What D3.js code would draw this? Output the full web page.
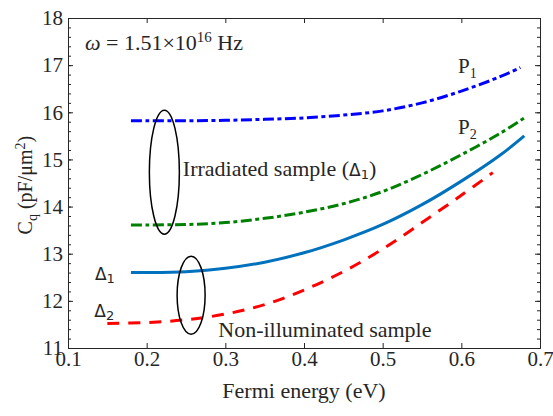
<!DOCTYPE html>
<html>
<head>
<meta charset="utf-8">
<script src="https://cdn.jsdelivr.net/npm/d3@7"></script>
</head>
<body style="margin:0">
<div id="chart"></div>
<script>
// Chart size
const svgWidth = 553;
const svgHeight = 416;
const margin = { top: 18, right: 13, bottom: 68, left: 68 };
const width = svgWidth - margin.left - margin.right;
const height = svgHeight - margin.top - margin.bottom;

const serifFont = "Liberation Serif";
const sansFont = "DejaVu Sans";

// Data (Fermi energy in eV, Cq in pF/um^2)
const xP1 = [0.18, 0.2, 0.25, 0.3, 0.35, 0.4, 0.45, 0.5, 0.55, 0.6, 0.65, 0.675];
const yP1 = [15.82, 15.82, 15.82, 15.83, 15.85, 15.88, 15.94, 16.03, 16.20, 16.45, 16.76, 16.95];
const xP2 = [0.18, 0.2, 0.25, 0.3, 0.35, 0.4, 0.45, 0.5, 0.55, 0.6, 0.65, 0.68];
const yP2 = [13.61, 13.61, 13.62, 13.66, 13.75, 13.88, 14.06, 14.32, 14.68, 15.10, 15.56, 15.88];
const xD1 = [0.18, 0.2, 0.25, 0.3, 0.35, 0.4, 0.45, 0.5, 0.55, 0.6, 0.65, 0.68];
const yD1 = [12.60, 12.60, 12.62, 12.69, 12.82, 13.02, 13.29, 13.62, 14.04, 14.54, 15.10, 15.50];
const xD2 = [0.15, 0.2, 0.25, 0.3, 0.35, 0.4, 0.45, 0.5, 0.55, 0.6, 0.64];
const yD2 = [11.52, 11.54, 11.60, 11.72, 11.92, 12.23, 12.62, 13.10, 13.66, 14.24, 14.72];

const xTicks = [0.1, 0.2, 0.3, 0.4, 0.5, 0.6, 0.7];
const yTicks = [11, 12, 13, 14, 15, 16, 17, 18];
const yMinorTicks = d3.range(11, 18.01, 0.2);

const series = [
  { x: xP1, y: yP1, color: "#0000ff", dash: "11,3.5,4,3.5" },
  { x: xP2, y: yP2, color: "#008000", dash: "11,3.5,4,3.5" },
  { x: xD1, y: yD1, color: "#0072bd", dash: null },
  { x: xD2, y: yD2, color: "#ff0000", dash: "12,9" }
];

const svg = d3.select("#chart").append("svg")
  .attr("width", svgWidth)
  .attr("height", svgHeight)
  .attr("font-family", serifFont);

const chart = svg.append("g")
  .attr("transform", "translate(" + margin.left + "," + margin.top + ")");

// Scales
const xScale = d3.scaleLinear().domain([0.1, 0.7]).range([0, width]);
const yScale = d3.scaleLinear().domain([11, 18]).range([height, 0]);

// Lines
const line = d3.line()
  .x(d => xScale(d[0]))
  .y(d => yScale(d[1]))
  .curve(d3.curveCatmullRom);

series.forEach(function(s) {
  const pts = s.x.map((v, i) => [v, s.y[i]]);
  chart.append("path")
    .datum(pts)
    .attr("fill", "none")
    .attr("stroke", s.color)
    .attr("stroke-width", 3)
    .attr("stroke-dasharray", s.dash)
    .attr("d", line);
});

// Axes, ticks pointing inward
const axisColor = "#262626";
function styleAxis(g) {
  g.attr("font-family", serifFont).attr("font-size", 21);
  g.select(".domain").attr("stroke", axisColor);
  g.selectAll(".tick line").attr("stroke", axisColor);
  g.selectAll(".tick text").attr("fill", axisColor);
}

chart.append("g")
  .attr("transform", "translate(0," + height + ")")
  .call(d3.axisBottom(xScale).tickValues(xTicks).tickFormat(d3.format(".1f"))
    .tickSizeInner(-5).tickSizeOuter(0).tickPadding(3))
  .call(styleAxis);

chart.append("g")
  .call(d3.axisTop(xScale).tickValues(xTicks).tickFormat("")
    .tickSizeInner(-5).tickSizeOuter(0))
  .call(styleAxis);

chart.append("g")
  .call(d3.axisLeft(yScale).tickValues(yTicks).tickFormat(d3.format("d"))
    .tickSizeInner(-5).tickSizeOuter(0).tickPadding(5))
  .call(styleAxis);

chart.append("g")
  .call(d3.axisLeft(yScale).tickValues(yMinorTicks).tickFormat("")
    .tickSizeInner(-3).tickSizeOuter(0))
  .call(styleAxis);

chart.append("g")
  .attr("transform", "translate(" + width + ",0)")
  .call(d3.axisRight(yScale).tickValues(yTicks).tickFormat("")
    .tickSizeInner(-5).tickSizeOuter(0))
  .call(styleAxis);

chart.append("g")
  .attr("transform", "translate(" + width + ",0)")
  .call(d3.axisRight(yScale).tickValues(yMinorTicks).tickFormat("")
    .tickSizeInner(-3).tickSizeOuter(0))
  .call(styleAxis);

// helper for serif text
function addText(x, y, size) {
  return chart.append("text")
    .attr("x", x)
    .attr("y", y)
    .attr("font-family", serifFont)
    .attr("font-size", size)
    .attr("fill", "#262626");
}

// Axis labels
addText(width / 2, height + 50, 22)
  .attr("text-anchor", "middle")
  .text("Fermi energy (eV)");

const yLabel = chart.append("text")
  .attr("transform", "translate(" + (-36) + "," + (yScale(14.54) + 4) + ") rotate(-90)")
  .attr("text-anchor", "middle")
  .attr("font-family", serifFont)
  .attr("font-size", 20)
  .attr("fill", "#262626");
yLabel.append("tspan").text("C");
yLabel.append("tspan").attr("dy", 5).attr("font-size", 14).text("q");
yLabel.append("tspan").attr("dy", -5).text(" (pF/\u03bcm");
yLabel.append("tspan").attr("dy", -7).attr("font-size", 14).text("2");
yLabel.append("tspan").attr("dy", 7).text(")");

// Annotations
const omega = addText(xScale(0.1216), yScale(17.32), 22);
omega.append("tspan").attr("font-style", "italic").text("\u03c9");
omega.append("tspan").text(" = 1.51\u00d710");
omega.append("tspan").attr("dy", -8).attr("font-size", 15).text("16");
omega.append("tspan").attr("dy", 8).text(" Hz");

function subLabel(x, y, main, sub, useSans) {
  const t = addText(x, y, useSans ? 17 : 21);
  const m = t.append("tspan").text(main);
  const s = t.append("tspan").attr("dy", useSans ? 3 : 5).attr("font-size", useSans ? 13 : 14).text(sub);
  if (useSans) { m.attr("font-family", sansFont); s.attr("font-family", sansFont); }
  return t;
}

subLabel(xScale(0.5957), yScale(16.83), "P", "1", false);
subLabel(xScale(0.5957), yScale(15.55), "P", "2", false);
subLabel(xScale(0.1343), yScale(12.44), "\u0394", "1", true);
subLabel(xScale(0.1335), yScale(11.66), "\u0394", "2", true);

const irr = addText(xScale(0.246), yScale(14.65), 22);
irr.append("tspan").text("Irradiated sample (");
irr.append("tspan").attr("font-family", sansFont).attr("font-size", 17).text("\u0394");
irr.append("tspan").attr("font-family", sansFont).attr("dy", 3).attr("font-size", 13).text("1");
irr.append("tspan").attr("dy", -3).text(")");

addText(xScale(0.291), yScale(11.24), 22)
  .text("Non-illuminated sample");

// Ellipses grouping the curves
chart.append("ellipse")
  .attr("cx", xScale(0.2225))
  .attr("cy", yScale(14.73))
  .attr("rx", 15)
  .attr("ry", 62)
  .attr("fill", "none")
  .attr("stroke", "#000")
  .attr("stroke-width", 1.5);

chart.append("ellipse")
  .attr("cx", xScale(0.2565))
  .attr("cy", yScale(12.12))
  .attr("rx", 14)
  .attr("ry", 39)
  .attr("fill", "none")
  .attr("stroke", "#000")
  .attr("stroke-width", 1.5);
</script>
</body>
</html>
